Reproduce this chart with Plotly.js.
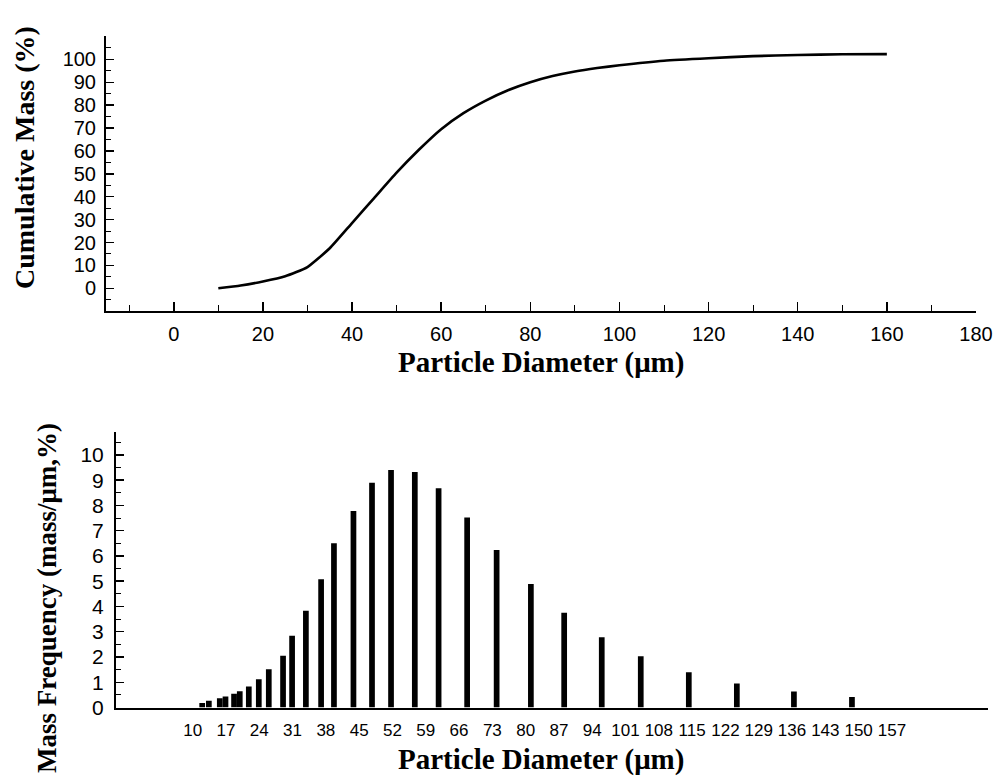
<!DOCTYPE html>
<html>
<head>
<meta charset="utf-8">
<script src="https://cdn.plot.ly/plotly-3.0.1.min.js"></script>
<style>
  html, body { margin: 0; padding: 0; background: #fff; }
  #chart { width: 996px; height: 777px; }
</style>
</head>
<body>
<div id="chart"></div>
<script>
// Top panel: cumulative mass curve
const cumDiameter = [10, 15, 20, 25, 30, 35, 40, 45, 50, 55, 60, 65, 70, 75, 80, 85, 90, 95, 100, 110, 120, 130, 140, 150, 160];
const cumMass     = [0, 1.2, 3.0, 5.3, 9.3, 17.5, 28.5, 39.5, 50.5, 60.5, 69.5, 76.5, 82, 86.5, 90, 92.7, 94.7, 96.2, 97.4, 99.4, 100.5, 101.4, 101.9, 102.2, 102.3];

// Bottom panel: mass frequency bars
const binDiameter = [12.0, 13.4, 15.7, 16.9, 18.7, 19.9, 21.8, 23.9, 26.0, 29.0, 30.9, 33.8, 37.0, 39.7, 43.8, 47.7, 51.7, 56.7, 61.7, 67.7, 73.9, 81.1, 88.1, 96.0, 104.2, 114.3, 124.4, 136.4, 148.6];
const massFreq    = [0.18, 0.27, 0.37, 0.44, 0.54, 0.64, 0.83, 1.12, 1.51, 2.05, 2.84, 3.83, 5.08, 6.5, 7.78, 8.9, 9.41, 9.33, 8.68, 7.52, 6.24, 4.89, 3.75, 2.78, 2.03, 1.4, 0.95, 0.63, 0.42];

// Tick labels
const topXTicks = [0, 20, 40, 60, 80, 100, 120, 140, 160, 180];
const topYTicks = [0, 10, 20, 30, 40, 50, 60, 70, 80, 90, 100];
const botXTicks = [10, 17, 24, 31, 38, 45, 52, 59, 66, 73, 80, 87, 94, 101, 108, 115, 122, 129, 136, 143, 150, 157];
const botYTicks = [0, 1, 2, 3, 4, 5, 6, 7, 8, 9, 10];

const W = 996, H = 777;
const px = v => v / W;
const py = v => (H - v) / H;

const tickFont = {family: 'Liberation Sans, Arial, sans-serif', size: 20, color: '#000'};
const botXFont = {family: 'Liberation Sans, Arial, sans-serif', size: 17, color: '#000'};
const xTitleFont = {family: 'Liberation Serif, Times New Roman, serif', size: 29, color: '#000', weight: 'bold'};
const yTitleFont = {family: 'Liberation Serif, Times New Roman, serif', size: 28, color: '#000', weight: 'bold'};

const traces = [
  {
    type: 'scatter', mode: 'lines',
    x: cumDiameter, y: cumMass,
    line: {color: '#000', width: 2.6, shape: 'spline', smoothing: 0.5},
    xaxis: 'x', yaxis: 'y', hoverinfo: 'skip'
  },
  {
    type: 'bar',
    x: binDiameter, y: massFreq,
    width: 1.2,
    marker: {color: '#000', line: {width: 0}},
    xaxis: 'x2', yaxis: 'y2', hoverinfo: 'skip'
  }
];

const axisCommon = {
  showgrid: false, zeroline: false, showline: true,
  linecolor: '#000', linewidth: 2,
  ticks: 'inside', tickcolor: '#000', tickwidth: 1.5,
  fixedrange: true
};

const layout = {
  width: W, height: H,
  margin: {l: 0, r: 0, t: 0, b: 0},
  paper_bgcolor: '#fff', plot_bgcolor: '#fff',
  showlegend: false,
  xaxis: Object.assign({}, axisCommon, {
    domain: [px(106), px(976)],
    range: [-15.2, 180],
    tickmode: 'array', tickvals: topXTicks, ticktext: topXTicks.map(String),
    ticklen: 9,
    minor: {dtick: 10, tick0: 0, ticks: 'inside', ticklen: 6, tickcolor: '#000', tickwidth: 1},
    tickfont: tickFont,
    tickangle: 0,
    ticklabelstandoff: 4,
    anchor: 'y'
  }),
  yaxis: Object.assign({}, axisCommon, {
    domain: [py(311), py(36)],
    range: [-9.9, 110.2],
    tickmode: 'array', tickvals: topYTicks, ticktext: topYTicks.map(String),
    ticklen: 8,
    minor: {dtick: 5, tick0: 0, ticks: 'inside', ticklen: 5, tickcolor: '#000', tickwidth: 1},
    tickfont: tickFont,
    ticklabelstandoff: 4,
    anchor: 'x'
  }),
  xaxis2: Object.assign({}, axisCommon, {
    domain: [px(116), px(988)],
    range: [-6.12, 177.2],
    tickmode: 'array', tickvals: botXTicks, ticktext: botXTicks.map(String),
    ticks: '',
    tickfont: botXFont,
    tickangle: 0,
    ticklabelstandoff: 6,
    anchor: 'y2'
  }),
  yaxis2: Object.assign({}, axisCommon, {
    domain: [py(707.5), py(432)],
    range: [0, 10.91],
    tickmode: 'array', tickvals: botYTicks, ticktext: botYTicks.map(String),
    ticklen: 8,
    minor: {dtick: 0.5, tick0: 0, ticks: 'inside', ticklen: 5, tickcolor: '#000', tickwidth: 1},
    tickfont: Object.assign({}, tickFont, {size: 21}),
    ticklabelstandoff: 6,
    anchor: 'x2'
  }),
  annotations: [
    {text: 'Particle Diameter (μm)', xref: 'paper', yref: 'paper', x: px(541), y: py(362),
     xanchor: 'center', yanchor: 'middle', showarrow: false, font: xTitleFont},
    {text: 'Particle Diameter (μm)', xref: 'paper', yref: 'paper', x: px(541), y: py(759),
     xanchor: 'center', yanchor: 'middle', showarrow: false, font: xTitleFont},
    {text: 'Cumulative Mass (%)', xref: 'paper', yref: 'paper', x: px(24), y: py(158),
     xanchor: 'center', yanchor: 'middle', showarrow: false, textangle: -90, font: yTitleFont},
    {text: 'Mass Frequency (mass/μm,%)', xref: 'paper', yref: 'paper', x: px(47), y: py(598),
     xanchor: 'center', yanchor: 'middle', showarrow: false, textangle: -90, font: Object.assign({}, yTitleFont, {size: 27})}
  ]
};

Plotly.newPlot('chart', traces, layout, {staticPlot: true, displayModeBar: false});
</script>
</body>
</html>
